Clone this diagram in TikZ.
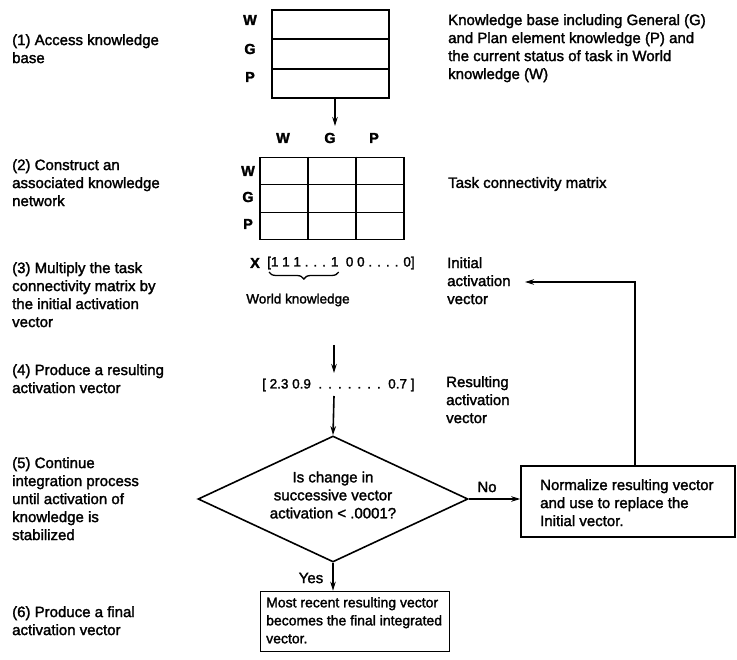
\documentclass[tikz,border=0pt]{standalone}
\usepackage{fontspec}
\setmainfont{Liberation Sans}[FakeBold=1.8]
\usetikzlibrary{arrows.meta,shapes.geometric,decorations.pathreplacing,calc}
\begin{document}
\begin{tikzpicture}[x=1pt,y=-1pt,
  every node/.style={inner sep=0pt},
  txt/.style={font=\fontsize{15}{18}\selectfont, align=left, anchor=north west},
  ctxt/.style={font=\fontsize{15}{18}\selectfont, align=center},
  lbl/.style={font=\fontsize{14.5}{18}\selectfont\bfseries},
  vtxt/.style={font=\fontsize{13.5}{16}\selectfont},
  box/.style={draw, line width=1.6pt},
  ln/.style={line width=1.6pt},
  arr/.style={line width=1.6pt, -{Stealth[length=9pt,width=5.5pt]}}]
\useasboundingbox (0,0) rectangle (737,660);

% left column
\node[txt] (s1) at (12,34) {(1) Access knowledge\\base};
\node[txt] (s2) at (12,159) {(2) Construct an\\associated knowledge\\network};
\node[txt] (s3) at (12,262) {(3) Multiply the task\\connectivity matrix by\\the initial activation\\vector};
\node[txt] (s4) at (12,364) {(4) Produce a resulting\\activation vector};
\node[txt] (s5) at (12,457) {(5) Continue\\integration process\\until activation of\\knowledge is\\stabilized};
\node[txt] (s6) at (12,606) {(6) Produce a final\\activation vector};

% knowledge base
\node[box, minimum width=117pt, minimum height=88pt] (kb) at (330.5,54) {};
\draw[ln] ($(kb.north west)!1/3!(kb.south west)$) -- ($(kb.north east)!1/3!(kb.south east)$);
\draw[ln] ($(kb.north west)!2/3!(kb.south west)$) -- ($(kb.north east)!2/3!(kb.south east)$);
\node[lbl] (kbw) at (250,20) {W};
\node[lbl] (kbg) at (250,49) {G};
\node[lbl] (kbp) at (250,77) {P};
\node[txt] (kbd) at (448,14) {Knowledge base including General (G)\\and Plan element knowledge (P) and\\the current status of task in World\\knowledge (W)};
\coordinate (a1) at (335,126);
\draw[arr] (kb.south -| a1) -- (a1);

% matrix
\node[lbl] (cw) at (283,138) {W};
\node[lbl] (cg) at (330,138) {G};
\node[lbl] (cp) at (374,138) {P};
\node[box, minimum width=144pt, minimum height=82pt] (mat) at (332,198.5) {};
\draw[ln] ($(mat.north west)!1/3!(mat.south west)$) -- ($(mat.north east)!1/3!(mat.south east)$);
\draw[ln] ($(mat.north west)!2/3!(mat.south west)$) -- ($(mat.north east)!2/3!(mat.south east)$);
\draw[ln] ($(mat.north west)!1/3!(mat.north east)$) -- ($(mat.south west)!1/3!(mat.south east)$);
\draw[ln] ($(mat.north west)!2/3!(mat.north east)$) -- ($(mat.south west)!2/3!(mat.south east)$);
\node[lbl] (rw) at (248,171) {W};
\node[lbl] (rg) at (248,197) {G};
\node[lbl] (rp) at (248,224) {P};
\node[txt, anchor=west] (tcm) at (448,184) {Task connectivity matrix};

% initial vector
\node[lbl] (vx) at (255,263) {X};
\node[vtxt, anchor=west] (veca) at (267,263) {[1 1 1 . . . 1};
\node[vtxt, anchor=west] (vecb) at ($(veca.east)+(7,0)$) {0 0 . . . . 0]};
\coordinate (br1) at ($(veca.west)+(2,9)$);
\coordinate (br2) at ($(veca.east)+(0,9)$);
\draw[line width=1.3pt, decorate, decoration={brace, mirror, amplitude=7pt}] (br1) -- (br2);
\node[vtxt] (wk) at (298,300) {World knowledge};
\node[txt] (init) at (447,257) {Initial\\activation\\vector};

\coordinate (a2s) at (334,345);
\coordinate (a2e) at (334,373);
\draw[arr] (a2s) -- (a2e);

% resulting vector
\node[vtxt, anchor=west] (res) at (262,385) {[ 2.3 0.9\ \ .\ \,.\ \,.\ \,.\ \,.\ \,.\ \,.\ \ 0.7 ]};
\node[txt] (resl) at (446,376) {Resulting\\activation\\vector};
\coordinate (a3s) at (334,396);

% decision
\node[draw, diamond, line width=1.6pt, minimum width=270pt, minimum height=126pt] (dec) at (333,499) {};
\draw[arr] (a3s) -- (dec.north);
\node[ctxt] (dect) at (333,495) {Is change in\\successive vector\\activation < .0001?};
\node[ctxt] (no) at (487,487) {No};

% normalize
\node[box, minimum width=214pt, minimum height=71pt] (norm) at (628,501.5) {};
\node[txt] (normt) at (540,479) {Normalize resulting vector\\and use to replace the\\Initial vector.};
\draw[arr] (dec.east) -- (dec.east -| norm.west);
\coordinate (fb) at (635,282);
\coordinate (fbend) at (525,282);
\draw[arr] (norm.north -| fb) -- (fb) -- (fbend);

% final
\node[ctxt] (yes) at (311,578) {Yes};
\node[box, minimum width=189pt, minimum height=60pt] (fin) at (355,621.5) {};
\node[txt, font=\fontsize{14}{18}\selectfont] (fint) at (266,597) {Most recent resulting vector\\becomes the final integrated\\vector.};
\draw[arr] (dec.south) -- (dec.south |- fin.north);
\end{tikzpicture}
\end{document}
